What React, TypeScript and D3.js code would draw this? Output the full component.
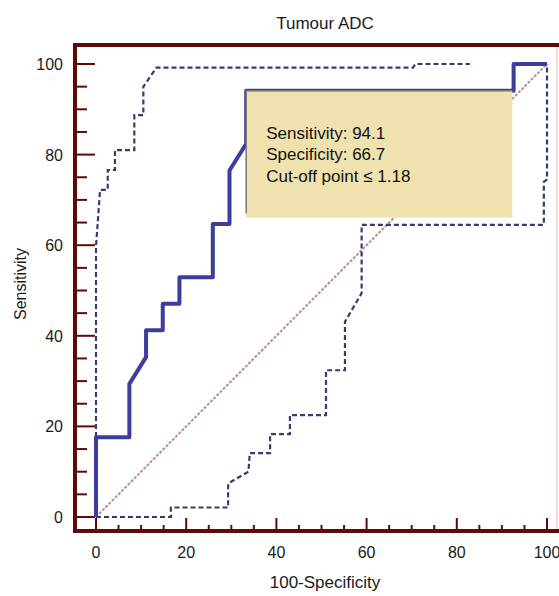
import React from 'react';
import * as d3 from 'd3';

// ROC curve for tumour ADC (x = 100-specificity, y = sensitivity)
const rocX = [0, 0, 7.4, 7.4, 11.1, 11.1, 14.8, 14.8, 18.5, 18.5, 25.9, 25.9, 29.6, 29.6, 33.3, 33.3, 92.6, 92.6, 100];
const rocY = [0, 17.6, 17.6, 29.4, 35.3, 41.2, 41.2, 47.1, 47.1, 52.9, 52.9, 64.7, 64.7, 76.5, 82.4, 94.1, 94.1, 100, 100];

// upper confidence bound
const upperX = [0, 0, 0.9, 2.6, 2.6, 4.2, 4.2, 8.5, 8.5, 10.5, 10.5, 13.4, 70.3, 70.8, 82.9];
const upperY = [0, 59.7, 72.2, 72.2, 76.6, 76.6, 81.0, 81.0, 88.7, 88.7, 95.0, 99.2, 99.2, 100, 100];

// lower confidence bound
const lowerX = [0, 16.6, 16.6, 29.3, 29.3, 33.8, 34.1, 38.6, 38.6, 43.0, 43.0, 51.0, 51.0, 55.2, 55.2, 58.9, 58.9, 99.3, 99.3, 100, 100];
const lowerY = [0, 0, 2.1, 2.1, 7.4, 10.0, 14.1, 14.1, 18.3, 18.3, 22.5, 22.5, 32.4, 32.4, 43.1, 49.4, 64.5, 64.5, 74.0, 74.5, 100];

const tickLabels = [0, 20, 40, 60, 80, 100];
const boxLines = ['Sensitivity: 94.1', 'Specificity: 66.7', 'Cut-off point \u2264 1.18'];

const W = 559;
const H = 596;
const font = '"Liberation Sans", Arial, Helvetica, sans-serif';
const frame = '#5c0b0b';

const App: React.FC = () => {
  const x = d3.scaleLinear().domain([0, 100]).range([96, 547]);
  const y = d3.scaleLinear().domain([0, 100]).range([517, 64]);

  const line = d3.line<[number, number]>()
    .x(d => x(d[0]))
    .y(d => y(d[1]));

  const pts = (xs: number[], ys: number[]) => xs.map((v, i) => [v, ys[i]] as [number, number]);

  const axisLeft = 75;
  const axisTop = 45;
  const axisBottom = 531;
  const axisRight = 557;

  const minor = x.ticks(20).filter(t => t % 20 !== 0);

  // annotation box in data units
  const bx0 = x(33.3), bx1 = x(92.3), by0 = y(94.1), by1 = y(66.1);

  return (
    <svg width={W} height={H} style={{ position: 'absolute', left: 0, top: 0, background: '#fff' }}>
      <text x={325} y={29} textAnchor="middle" fontFamily={font} fontSize={17} fill="#1a1a1a">Tumour ADC</text>

      {/* frame */}
      <line x1={axisRight} x2={axisRight} y1={axisTop} y2={axisBottom} stroke="#eab4b4" strokeWidth={1} />
      <line x1={axisLeft} x2={W} y1={axisTop} y2={axisTop} stroke={frame} strokeWidth={4} />
      <line x1={axisLeft} x2={W} y1={axisBottom} y2={axisBottom} stroke={frame} strokeWidth={4} />
      <line x1={axisLeft} x2={axisLeft} y1={axisTop - 2} y2={axisBottom + 2} stroke={frame} strokeWidth={4} />

      {/* ticks */}
      {tickLabels.map(t => (
        <g key={'mx' + t}>
          <line x1={x(t)} x2={x(t)} y1={axisBottom} y2={axisBottom - 13} stroke={frame} strokeWidth={2} />
          <line x1={axisLeft} x2={axisLeft + 20} y1={y(t)} y2={y(t)} stroke={frame} strokeWidth={2} />
        </g>
      ))}
      {minor.map(t => (
        <g key={'mn' + t}>
          <line x1={x(t)} x2={x(t)} y1={axisBottom} y2={axisBottom - 6} stroke={frame} strokeWidth={2} />
          <line x1={axisLeft} x2={axisLeft + 12} y1={y(t)} y2={y(t)} stroke={frame} strokeWidth={2} />
        </g>
      ))}

      {/* tick labels */}
      {tickLabels.map(t => (
        <g key={'lb' + t} fontFamily={font} fontSize={16} fill="#1a1a1a">
          <text x={x(t)} y={558} textAnchor="middle">{t}</text>
          <text x={63} y={y(t) + 6} textAnchor="end">{t}</text>
        </g>
      ))}

      <text x={325} y={588} textAnchor="middle" fontFamily={font} fontSize={17} fill="#1a1a1a">100-Specificity</text>
      <text transform="translate(26,284) rotate(-90)" textAnchor="middle" fontFamily={font} fontSize={16} fill="#1a1a1a">Sensitivity</text>

      {/* diagonal reference */}
      <path d={line([[0, 0], [100, 100]]) || ''} fill="none" stroke="#bf8c8c" strokeWidth={2} strokeDasharray="3,1.5" />

      {/* confidence bounds */}
      <path d={line(pts(upperX, upperY)) || ''} fill="none" stroke="#3a3a6e" strokeWidth={2.2} strokeDasharray="5,3" />
      <path d={line(pts(lowerX, lowerY)) || ''} fill="none" stroke="#3a3a6e" strokeWidth={2.2} strokeDasharray="5,3" />

      {/* ROC */}
      <path d={line(pts(rocX, rocY)) || ''} fill="none" stroke="#3d3d9e" strokeWidth={4} strokeLinejoin="round" />

      {/* annotation box */}
      <rect x={bx0} y={by0} width={bx1 - bx0} height={by1 - by0} fill="#efe2ae" />
      <line x1={bx0} x2={bx1} y1={by0} y2={by0} stroke="#777" strokeWidth={1.5} />
      <line x1={bx0} x2={bx0} y1={by0} y2={by1 - 4} stroke="#777" strokeWidth={1.5} />
      {boxLines.map((s, i) => (
        <text key={s} x={bx0 + 20} y={by0 + 48 + i * 21.7} fontFamily={font} fontSize={17} fill="#111">{s}</text>
      ))}
    </svg>
  );
};

export default App;
